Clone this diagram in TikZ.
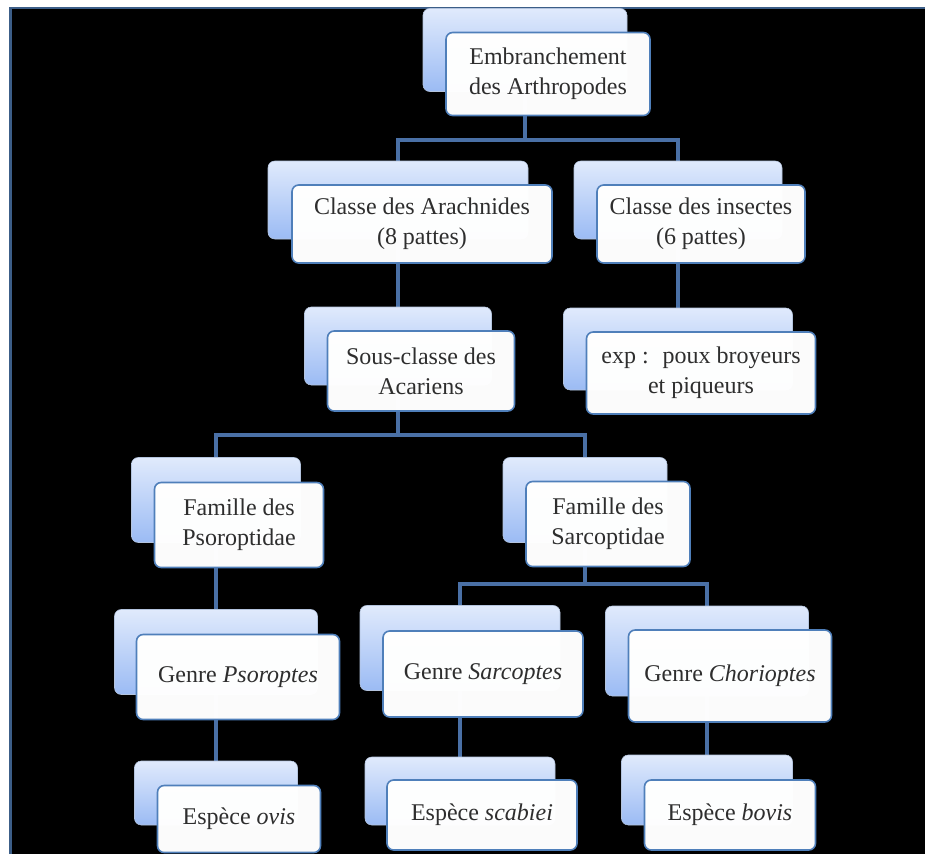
\documentclass[tikz,border=0pt]{standalone}
\usepackage{fontspec}
\setmainfont{Liberation Serif}
\usetikzlibrary{backgrounds}
\definecolor{backtop}{HTML}{E0EAFC}
\definecolor{backbot}{HTML}{9BBBF4}
\definecolor{backline}{HTML}{B4C4DE}
\definecolor{frontline}{HTML}{4F7FBA}
\definecolor{linkcol}{HTML}{4A70A6}
\definecolor{framecol}{HTML}{3C5E88}
\definecolor{textcol}{HTML}{2E2E2E}
\tikzset{
  base/.style={font=\fontsize{18}{22.5}\selectfont, align=center, inner sep=2pt, outer sep=0mm},
  boxsize/.style 2 args={minimum width=#1*0.75pt, minimum height=#2*0.75pt},
  back/.style={rectangle, draw=backline, rounded corners=5pt, top color=backtop, bottom color=backbot, base},
  front/.style={rectangle, draw=frontline, line width=1.2pt, rounded corners=5pt, fill=white, fill opacity=0.985, text opacity=1, text=textcol, base},
  link/.style={draw=linkcol, line width=2.6pt}
}
\begin{document}
\begin{tikzpicture}[x=0.75pt, y=-0.75pt]
    \useasboundingbox (0,0) rectangle (925,854);

    \node[back, boxsize={204}{83}] (embr-b) at (525,50) {};
    \node[front, boxsize={204}{83}] (embr) at ([shift={(23,24)}]embr-b.center) {Embranchement\\des Arthropodes};

    \node[back, boxsize={260}{78}] (arach-b) at (398,200) {};
    \node[front, boxsize={260}{78}] (arach) at ([shift={(24,24)}]arach-b.center) {Classe des Arachnides\\(8 pattes)};
    \node[back, boxsize={208}{78}] (insect-b) at (678,200) {};
    \node[front, boxsize={208}{78}] (insect) at ([shift={(23,24)}]insect-b.center) {Classe des insectes\\(6 pattes)};

    \node[back, boxsize={187}{78}] (sous-b) at (398,346) {};
    \node[front, boxsize={187}{80}] (sous) at ([shift={(23,25)}]sous-b.center) {Sous-classe des\\Acariens};
    \node[back, boxsize={229}{82}] (exp-b) at (678,349) {};
    \node[front, boxsize={229}{82}] (exp) at ([shift={(23,24)}]exp-b.center) {exp :~ poux broyeurs\\et piqueurs};

    \node[back, boxsize={169}{85}] (psorfam-b) at (216,500) {};
    \node[front, boxsize={169}{85}] (psorfam) at ([shift={(23,25)}]psorfam-b.center) {Famille des\\Psoroptidae};
    \node[back, boxsize={164}{85}] (sarcfam-b) at (585,500) {};
    \node[front, boxsize={164}{85}] (sarcfam) at ([shift={(23,24)}]sarcfam-b.center) {Famille des\\Sarcoptidae};

    \node[back, boxsize={203}{85}] (psorgen-b) at (216,652) {};
    \node[front, boxsize={203}{85}] (psorgen) at ([shift={(22,25)}]psorgen-b.center) {Genre \textit{Psoroptes}};
    \node[back, boxsize={200}{85}] (sarcgen-b) at (460,648) {};
    \node[front, boxsize={200}{86}] (sarcgen) at ([shift={(23,26)}]sarcgen-b.center) {Genre \textit{Sarcoptes}};
    \node[back, boxsize={203}{90}] (chorgen-b) at (707,651) {};
    \node[front, boxsize={203}{92}] (chorgen) at ([shift={(23,25)}]chorgen-b.center) {Genre \textit{Chorioptes}};

    \node[back, boxsize={163}{64}] (ovis-b) at (216,793) {};
    \node[front, boxsize={163}{67}] (ovis) at ([shift={(23,26)}]ovis-b.center) {Espèce \textit{ovis}};
    \node[back, boxsize={190}{68}] (scab-b) at (460,791) {};
    \node[front, boxsize={190}{70}] (scab) at ([shift={(22,24)}]scab-b.center) {Espèce \textit{scabiei}};
    \node[back, boxsize={171}{70}] (bovis-b) at (707,790) {};
    \node[front, boxsize={171}{70}] (bovis) at ([shift={(23,25)}]bovis-b.center) {Espèce \textit{bovis}};

    % frame and connectors behind the boxes
    \begin{scope}[on background layer]
      \fill[white] (0,0) rectangle (925,854);
      \fill[black] (10,8) rectangle (925,854);
      \draw[framecol, line width=2.2pt] (10.5,854) -- (10.5,8) -- (925,8);

      \draw[link] (embr-b.south) -- ++(0,48.5) -| (arach-b.north);
      \draw[link] (embr-b.south) -- ++(0,48.5) -| (insect-b.north);
      \draw[link] (arach-b) -- (sous-b);
      \draw[link] (insect-b) -- (exp-b);
      \draw[link] (sous-b.south) -- ++(0,50) -| (psorfam-b.north);
      \draw[link] (sous-b.south) -- ++(0,50) -| (sarcfam-b.north);
      \draw[link] (psorfam-b) -- (psorgen-b);
      \draw[link] (sarcfam-b.south) -- ++(0,41.5) -| (sarcgen-b.north);
      \draw[link] (sarcfam-b.south) -- ++(0,41.5) -| (chorgen-b.north);
      \draw[link] (psorgen-b) -- (ovis-b);
      \draw[link] (sarcgen-b) -- (scab-b);
      \draw[link] (chorgen-b) -- (bovis-b);
    \end{scope}
\end{tikzpicture}
\end{document}
